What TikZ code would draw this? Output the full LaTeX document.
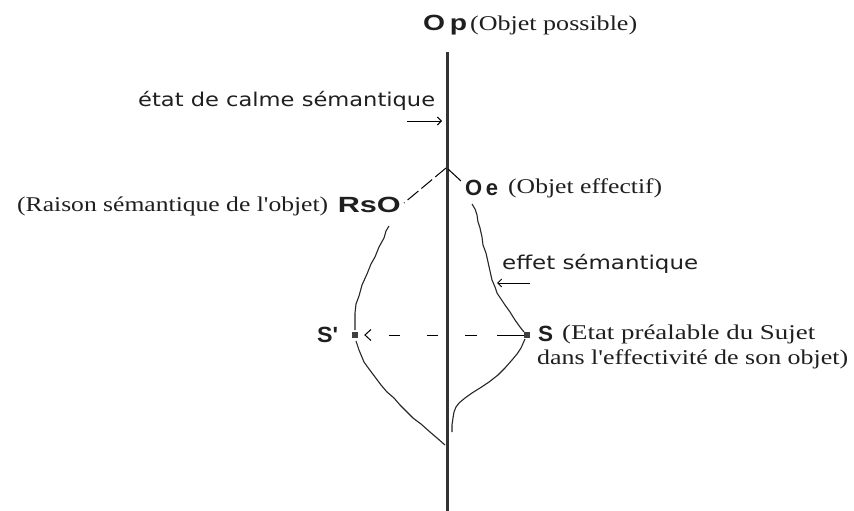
\documentclass[tikz,border=0pt]{standalone}
\usepackage{fontspec}
\setmainfont{Liberation Serif}
\newfontfamily\serifw{Liberation Serif}
\newfontfamily\sansw{DejaVu Sans}
\newfontfamily\boldw{Liberation Sans}
\usetikzlibrary{arrows.meta}
\newcommand{\fitw}[2]{\resizebox{#1}{\height}{#2}}
\begin{document}
\begin{tikzpicture}[x=1pt,y=-1pt,
  lbl/.style={inner sep=0pt,anchor=west,text=black!88},
  ser/.style={lbl,font=\serifw\fontsize{21}{24}\selectfont},
  san/.style={lbl,font=\sansw\fontsize{19}{22}\selectfont},
  bld/.style={lbl,font=\boldw\bfseries\fontsize{22}{24}\selectfont},
  curve/.style={line width=1.1pt,black!85,line join=round},
  sq/.style={fill=black!75,minimum size=6pt,inner sep=0pt},
  small arrow/.style={line width=0.9pt,-{Straight Barb[length=4pt,width=8pt]}},
]
\useasboundingbox (0,0) rectangle (854,511);
\fill[white] (0,0) rectangle (854,511);
% axis
\coordinate (top) at (447,52);
\coordinate (bot) at (447,511);
\draw[line width=3pt,black!80] (top) -- (bot);
% labels
\node[bld] (op) at (423,25) {\fitw{44pt}{O\,p}};
\node[ser] (opt) at (470,25) {\fitw{167pt}{(Objet possible)}};
\node[san] (calme) at (138,101) {\fitw{297pt}{état de calme sémantique}};
\coordinate (ca1) at (407,121);
\coordinate (ca2) at (442,121);
\draw[small arrow] (ca1) -- (ca2);
\node[ser] (rso) at (17,206) {\fitw{311pt}{(Raison sémantique de l'objet)}};
\node[bld,anchor=east] (rsoB) at (401,205) {\fitw{63pt}{RsO}};
\node[bld] (oe) at (465,188) {\fitw{33pt}{O\,e}};
\node[ser] (oet) at (508,188) {\fitw{154pt}{(Objet effectif)}};
\node[san] (eff) at (502,264) {\fitw{196pt}{effet sémantique}};
\coordinate (ea1) at (530,283);
\coordinate (ea2) at (497,283);
\draw[small arrow] (ea1) -- (ea2);
\node[bld] (sp) at (317,335) {\fitw{21pt}{S'}};
\node[bld] (s) at (538,334) {\fitw{15pt}{S}};
\node[ser] (st1) at (562,334) {\fitw{253pt}{(Etat préalable du Sujet}};
\node[ser] (st2) at (537,359) {\fitw{311pt}{dans l'effectivité de son objet)}};
% squares
\node[sq] (sqp) at (355,335) {};
\node[sq] (sqs) at (527,335) {};
% dashed arrow
\draw[line width=1pt,dash pattern=on 27pt off 20pt on 12pt off 27pt on 11pt off 27pt on 11pt off 40pt,
  shorten >=6pt,-{Straight Barb[length=6pt,width=11pt]}] (sqs.west) -- (sqp.east);
% upper joins
\draw[line width=1pt,dash pattern=on 14pt off 4pt] (446,168) -- (404,203);
\draw[line width=1pt] (448,169) -- (461,181);
% left curve
\draw[curve] (389,226) -- (386,231) -- (384,238) -- (379,247) -- (375,257) -- (371,264) -- (367,274) -- (362,285) -- (359,296) -- (356,304) -- (355,313) -- (355,322) -- (355,330);
\draw[curve] (356,341) -- (359,350) -- (364,362) -- (369,369) -- (375,377) -- (381,385) -- (387,392) -- (394,398) -- (400,405) -- (406,411) -- (413,418) -- (421,424) -- (430,432) -- (437,438) -- (445,445);
% right curve
\draw[curve] (472,204) -- (475,209) -- (477,215) -- (478,222) -- (480,228) -- (482,237) -- (483,245) -- (486,253) -- (488,262) -- (490,271) -- (492,280) -- (495,287) -- (497,293) -- (501,299) -- (505,305) -- (510,312) -- (515,320) -- (520,327) -- (524,332);
\draw[curve] (525,339) -- (521,348) -- (517,354) -- (512,360) -- (505,368) -- (498,375) -- (489,382) -- (480,388) -- (472,393) -- (465,398) -- (459,403) -- (456,407) -- (454,412) -- (453,418) -- (452,425) -- (452,432);
\end{tikzpicture}
\end{document}
